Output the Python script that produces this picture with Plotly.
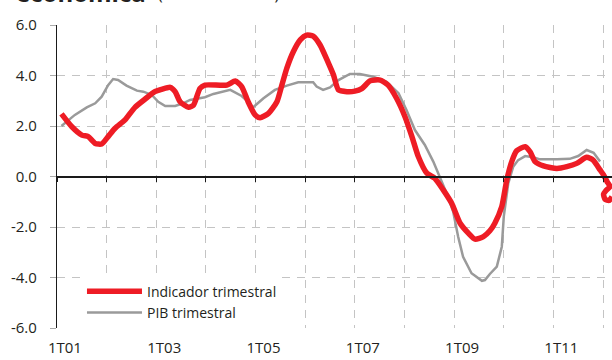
import plotly.graph_objects as go

# ---- data (decimal years) ----
ind_x = [2001.09, 2001.30, 2001.50, 2001.63, 2001.77, 2001.90, 2002.03, 2002.17, 2002.37, 2002.57,
         2002.77, 2002.97, 2003.11, 2003.28, 2003.38, 2003.48, 2003.65, 2003.75, 2003.88, 2003.98,
         2004.42, 2004.59, 2004.72, 2004.85, 2004.99, 2005.09, 2005.26, 2005.43, 2005.53, 2005.63,
         2005.76, 2005.90, 2006.03, 2006.16, 2006.30, 2006.47, 2006.57, 2006.67, 2006.84, 2007.00,
         2007.14, 2007.31, 2007.51, 2007.67, 2007.84, 2008.01, 2008.15, 2008.28, 2008.45, 2008.61,
         2008.78, 2008.95, 2009.12, 2009.29, 2009.42, 2009.59, 2009.72, 2009.82, 2009.96, 2010.06,
         2010.16, 2010.26, 2010.43, 2010.53, 2010.63, 2010.80, 2011.07, 2011.27, 2011.47, 2011.67,
         2011.80, 2011.94, 2012.01, 2012.08, 2012.14, 2012.06, 2012.01, 2012.04, 2012.12, 2012.18]
ind_y = [2.48, 1.97, 1.64, 1.58, 1.31, 1.29, 1.58, 1.91, 2.24, 2.74,
         3.06, 3.36, 3.45, 3.53, 3.36, 2.96, 2.74, 2.83, 3.49, 3.62,
         3.62, 3.78, 3.56, 2.96, 2.44, 2.33, 2.50, 2.96, 3.62, 4.29,
         4.94, 5.41, 5.60, 5.56, 5.21, 4.48, 4.02, 3.43, 3.36, 3.38,
         3.48, 3.79, 3.82, 3.62, 3.10, 2.37, 1.58, 0.78, 0.13, -0.07,
         -0.53, -1.06, -1.85, -2.25, -2.48, -2.38, -2.15, -1.85, -1.19, -0.14,
         0.59, 1.02, 1.18, 0.98, 0.59, 0.42, 0.32, 0.39, 0.52, 0.76,
         0.65, 0.26, 0.06, -0.20, -0.40, -0.55, -0.70, -0.90, -0.95, -0.80]

pib_x = [2001.09, 2001.36, 2001.60, 2001.77, 2001.90, 2002.03, 2002.13, 2002.23, 2002.40, 2002.61,
         2002.74, 2002.91, 2003.04, 2003.18, 2003.38, 2003.54, 2003.68, 2003.85, 2003.98, 2004.15,
         2004.49, 2004.72, 2004.85, 2004.95, 2005.16, 2005.39, 2005.63, 2005.86, 2006.16, 2006.23,
         2006.36, 2006.50, 2006.67, 2006.90, 2007.10, 2007.37, 2007.64, 2007.88, 2008.04, 2008.21,
         2008.41, 2008.58, 2008.72, 2008.85, 2008.98, 2009.08, 2009.18, 2009.35, 2009.56, 2009.62,
         2009.72, 2009.86, 2009.96, 2010.00, 2010.09, 2010.19, 2010.29, 2010.43, 2010.59, 2010.73,
         2011.07, 2011.33, 2011.50, 2011.67, 2011.81, 2011.94]
pib_y = [2.00, 2.44, 2.74, 2.90, 3.16, 3.62, 3.86, 3.82, 3.60, 3.40,
         3.36, 3.23, 2.96, 2.79, 2.79, 2.90, 3.03, 3.08, 3.14, 3.27,
         3.43, 3.19, 2.96, 2.74, 3.10, 3.43, 3.60, 3.73, 3.73, 3.56,
         3.43, 3.53, 3.82, 4.06, 4.06, 3.95, 3.75, 3.30, 2.63, 1.84,
         1.25, 0.59, -0.07, -0.67, -1.39, -2.38, -3.18, -3.83, -4.13, -4.10,
         -3.86, -3.57, -2.78, -1.59, -0.27, 0.39, 0.65, 0.81, 0.76, 0.68,
         0.68, 0.70, 0.81, 1.05, 0.94, 0.59]

x_labels = ["1T01", "1T03", "1T05", "1T07", "1T09", "1T11"]
y_vals = [-6, -4, -2, 0, 2, 4, 6]
y_labels = ["-6.0", "-4.0", "-2.0", "0.0", "2.0", "4.0", "6.0"]

x_start, x_end = 2001, 2012.18
x_tickvals = [int("20" + s[2:]) + 0.16 for s in x_labels]

FONT = "Open Sans"
TXT = "#231f20"
GRID = "#c4c4c4"

fig = go.Figure()
fig.add_trace(go.Scatter(x=pib_x, y=pib_y, mode="lines", name="PIB trimestral",
                         line=dict(color="#9a9a9a", width=2.5), showlegend=False))
fig.add_trace(go.Scatter(x=ind_x, y=ind_y, mode="lines", name="Indicador trimestral",
                         line=dict(color="#ee1c25", width=5.5, shape="spline", smoothing=0.6),
                         showlegend=True))
# legend entry for PIB placed after indicator
fig.add_trace(go.Scatter(x=[None], y=[None], mode="lines", name="PIB trimestral",
                         line=dict(color="#9a9a9a", width=2.5)))
# dummy trace for the zero-line axis with ticks
fig.add_trace(go.Scatter(x=[None], y=[None], xaxis="x2", showlegend=False, hoverinfo="skip"))

fig.update_layout(
    width=612, height=360,
    margin=dict(l=57, r=0, t=25, b=32),
    paper_bgcolor="white", plot_bgcolor="white",
    font=dict(family=FONT, color=TXT, size=15),
    xaxis=dict(range=[x_start, x_end], tickmode="array", tickvals=x_tickvals, ticktext=x_labels,
               showgrid=False, zeroline=False, showline=False, ticks="",
               ticklabelstandoff=9,
               tickfont=dict(size=15, color=TXT),
               minor=dict(tickmode="linear", tick0=2001, dtick=1, showgrid=True,
                          gridcolor=GRID, griddash="8px,7px", gridwidth=1.3, ticks="")),
    xaxis2=dict(range=[x_start, x_end], overlaying="x", anchor="free", position=0.5,
                showline=True, linecolor="#1a1a1a", linewidth=1.5,
                ticks="outside", ticklen=5, tickcolor="#1a1a1a", tickwidth=1.3,
                tickmode="linear", tick0=2001, dtick=1, showticklabels=False,
                showgrid=False, zeroline=False),
    yaxis=dict(range=[-6, 6], tickmode="array", tickvals=y_vals, ticktext=y_labels,
               showline=True, linecolor="#1a1a1a", linewidth=1.3,
               ticks="outside", ticklen=6, tickcolor="#aaaaaa", tickwidth=1.3,
               showgrid=True, gridcolor=GRID, griddash="8px,7px", gridwidth=1.3,
               zeroline=False, ticklabelstandoff=10,
               tickfont=dict(size=15, color=TXT)),
    legend=dict(x=0.045, y=0.173, xanchor="left", yanchor="top", bgcolor="white",
                font=dict(size=14, color=TXT, family=FONT), itemwidth=55,
                tracegroupgap=0),
    annotations=[
        dict(text="<b>económica</b>", xref="paper", yref="paper", x=-43/555, y=1.0825,
             xanchor="left", yanchor="top", yshift=26, showarrow=False,
             font=dict(size=24, color=TXT, family=FONT)),
        dict(text="(tasa interanual)", xref="paper", yref="paper", x=(156-57)/555, y=1.0825,
             xanchor="left", yanchor="top", yshift=19, showarrow=False,
             font=dict(size=16, color=TXT, family=FONT)),
    ],
)

fig.write_html("out.html")
